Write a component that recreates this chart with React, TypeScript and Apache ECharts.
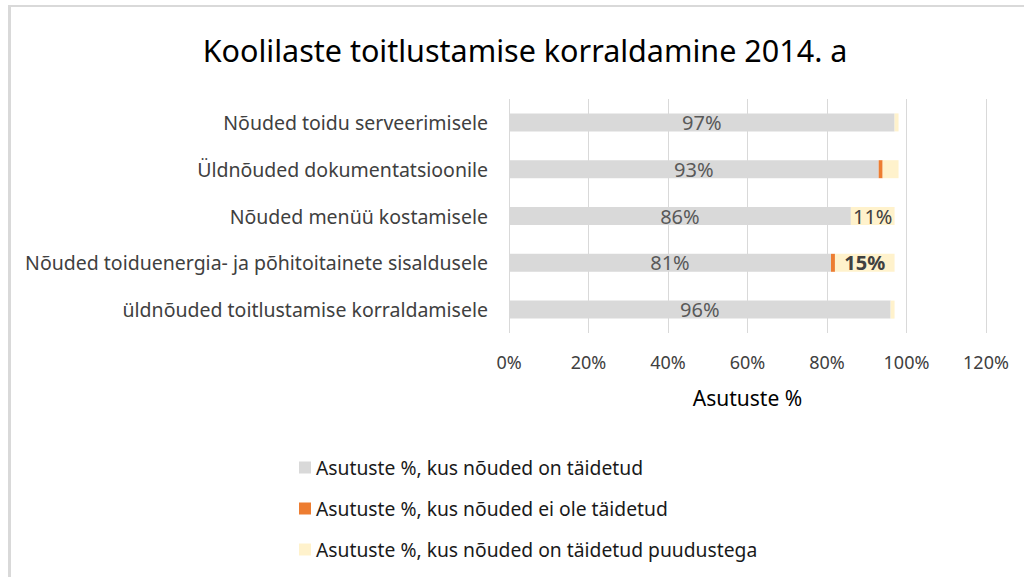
import React, { useEffect, useRef } from "react";
import * as echarts from "echarts";

const title = "Koolilaste toitlustamise korraldamine 2014. a";
const categories = [
  "Nõuded toidu serveerimisele",
  "Üldnõuded dokumentatsioonile",
  "Nõuded menüü kostamisele",
  "Nõuded toiduenergia- ja põhitoitainete sisaldusele",
  "üldnõuded toitlustamise korraldamisele",
];
const seriesNames = [
  "Asutuste %, kus nõuded on täidetud",
  "Asutuste %, kus nõuded ei ole täidetud",
  "Asutuste %, kus nõuded on täidetud puudustega",
];
const fulfilled = [97, 93, 86, 81, 96];
const notFulfilled = [0, 1, 0, 1, 0];
const withDefects = [1, 4, 11, 15, 1];
const defectLabelShown = [false, false, true, true, false];
const defectLabelBold = [false, false, false, true, false];
const axisName = "Asutuste %";

const FONT = "Noto Sans";

export default function App() {
  const ref = useRef<HTMLDivElement>(null);
  useEffect(() => {
    document.body.style.margin = "0";
    const chart = echarts.init(ref.current!, null, { renderer: "svg" });
    chart.setOption({
      animation: false,
      backgroundColor: "#ffffff",
      textStyle: { fontFamily: FONT },
      title: {
        text: title,
        left: 520,
        textAlign: "center",
        top: 29,
        textStyle: { fontFamily: FONT, fontSize: 30.5, fontWeight: "normal", color: "#000000" },
      },
      graphic: [
        { type: "line", shape: { x1: 8, y1: 6, x2: 1024, y2: 6 }, style: { stroke: "#d9d9d9", lineWidth: 2 } },
        { type: "line", shape: { x1: 9.5, y1: 5, x2: 9.5, y2: 577 }, style: { stroke: "#d9d9d9", lineWidth: 3 } },
      ],
      grid: { left: 509, top: 99, width: 477, height: 234, containLabel: false },
      xAxis: {
        type: "value",
        min: 0,
        max: 120,
        interval: 20,
        name: axisName,
        nameLocation: "middle",
        nameGap: 54,
        nameTextStyle: { fontFamily: FONT, fontSize: 21, color: "#000000" },
        axisLine: { show: false },
        axisTick: { show: false },
        axisLabel: { formatter: "{value}%", fontFamily: FONT, fontSize: 18, color: "#404040", margin: 20 },
        splitLine: { show: true, lineStyle: { color: "#d9d9d9", width: 1 } },
      },
      yAxis: {
        type: "category",
        data: categories,
        inverse: true,
        axisLine: { show: false },
        axisTick: { show: false },
        axisLabel: { fontFamily: FONT, fontSize: 19.5, color: "#404040", margin: 21 },
      },
      legend: {
        orient: "vertical",
        left: 294,
        top: 453,
        itemWidth: 12,
        itemHeight: 12,
        itemGap: 22,
        icon: "rect",
        textStyle: { fontFamily: FONT, fontSize: 19.3, color: "#1a1a1a" },
        data: seriesNames,
      },
      series: [
        {
          name: seriesNames[0],
          type: "bar",
          stack: "total",
          barWidth: 18,
          itemStyle: { color: "#d9d9d9" },
          label: { show: true, position: "inside", formatter: "{c}%", fontFamily: FONT, fontSize: 20, color: "#595959" },
          data: fulfilled,
        },
        {
          name: seriesNames[1],
          type: "bar",
          stack: "total",
          barWidth: 18,
          itemStyle: { color: "#ed7d31" },
          data: notFulfilled,
        },
        {
          name: seriesNames[2],
          type: "bar",
          stack: "total",
          barWidth: 18,
          itemStyle: { color: "#fff2cc" },
          data: withDefects.map((v, i) => ({
            value: v,
            label: {
              show: defectLabelShown[i],
              position: "inside",
              formatter: "{c}%",
              fontFamily: FONT,
              fontSize: 20,
              color: "#404040",
              fontWeight: defectLabelBold[i] ? "bold" : "normal",
            },
          })),
        },
      ],
    });
    return () => chart.dispose();
  }, []);
  return <div ref={ref} style={{ width: 1024, height: 577 }} />;
}
